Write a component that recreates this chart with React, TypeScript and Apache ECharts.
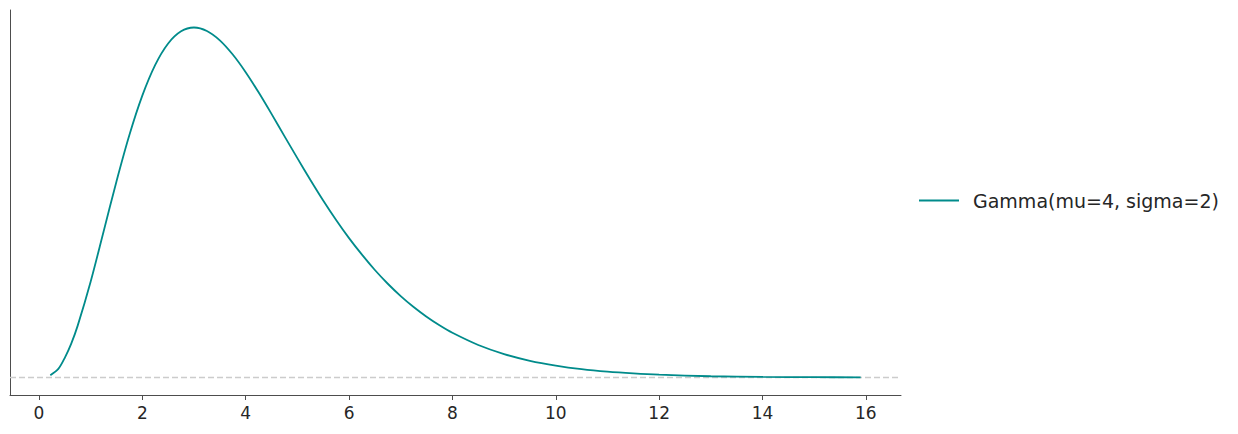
import React, { useRef, useEffect } from "react";
import * as echarts from "echarts";

// Gamma(mu=4, sigma=2) density
const xValues = [
  0.22, 0.375, 0.5, 0.625, 0.75, 1, 1.25, 1.5, 1.75, 2, 2.25, 2.5, 2.75, 3, 3.25, 3.5,
  3.75, 4, 4.25, 4.5, 4.75, 5, 5.25, 5.5, 5.75, 6, 6.25, 6.5, 6.75, 7, 7.25, 7.5, 7.75, 8,
  8.5, 9, 9.5, 10, 10.5, 11, 11.5, 12, 13, 14, 15, 15.9,
];
const densityValues = [
  0.0014, 0.0055, 0.0126, 0.0217, 0.0332, 0.0613, 0.0933, 0.1255, 0.1552, 0.1804,
  0.2001, 0.2138, 0.2216, 0.224, 0.2218, 0.2158, 0.2067, 0.1954, 0.1825, 0.1687, 0.1545,
  0.1404, 0.1266, 0.1133, 0.1008, 0.0892, 0.0786, 0.0688, 0.06, 0.0521, 0.0451, 0.0389,
  0.0334, 0.0286, 0.0208, 0.015, 0.0107, 0.0076, 0.0053, 0.0037, 0.0026, 0.0018, 0.0008,
  0.0004, 0.0002, 0.0001,
];
const xTicks = [0, 2, 4, 6, 8, 10, 12, 14, 16];
const xRange = [-0.56, 16.68];
const yRange = [-0.0112, 0.2352];
const seriesName = "Gamma(mu=4, sigma=2)";

const FONT = "DejaVu Sans";

export default function App() {
  const chartRef = useRef<HTMLDivElement>(null);

  useEffect(() => {
    document.body.style.margin = "0";
    if (!chartRef.current) return;
    const chart = echarts.init(chartRef.current, undefined, { renderer: "svg" });

    const option: echarts.EChartsOption = {
      animation: false,
      textStyle: { fontFamily: FONT },
      grid: { left: 10, right: 337, top: 10, bottom: 39 },
      legend: {
        left: 919,
        top: 191,
        padding: 0,
        orient: "vertical",
        icon: "rect",
        itemWidth: 40,
        itemHeight: 2,
        textStyle: { fontFamily: FONT, fontSize: 19, color: "#262626", padding: [0, 0, 0, 9] },
        data: [seriesName],
      },
      xAxis: {
        type: "value",
        min: xRange[0],
        max: xRange[1],
        axisLine: { show: true, onZero: false, lineStyle: { color: "#4d4d4d", width: 1 } },
        axisTick: {
          show: true,
          length: 5,
          customValues: xTicks,
          lineStyle: { color: "#4d4d4d", width: 1 },
        },
        axisLabel: {
          customValues: xTicks,
          margin: 9,
          fontSize: 17,
          fontFamily: FONT,
          color: "#262626",
        },
        splitLine: { show: false },
      },
      yAxis: {
        type: "value",
        min: yRange[0],
        max: yRange[1],
        axisLine: { show: true, onZero: false, lineStyle: { color: "#4d4d4d", width: 1 } },
        axisTick: { show: false },
        axisLabel: { show: false },
        splitLine: { show: false },
      },
      series: [
        {
          name: "zero",
          type: "line",
          data: [
            [xRange[0], 0],
            [xRange[1], 0],
          ],
          z: 1,
          silent: true,
          symbol: "none",
          lineStyle: { color: "#cccccc", type: [6, 3], width: 1.5 },
        },
        {
          name: seriesName,
          type: "line",
          data: xValues.map((x, i) => [x, densityValues[i]]),
          smooth: 0.3,
          symbol: "none",
          z: 3,
          lineStyle: { color: "#008b8b", width: 1.8 },
          itemStyle: { color: "#008b8b" },
        },
      ],
    };

    chart.setOption(option);
    return () => chart.dispose();
  }, []);

  return <div ref={chartRef} style={{ width: 1238, height: 434 }} />;
}
